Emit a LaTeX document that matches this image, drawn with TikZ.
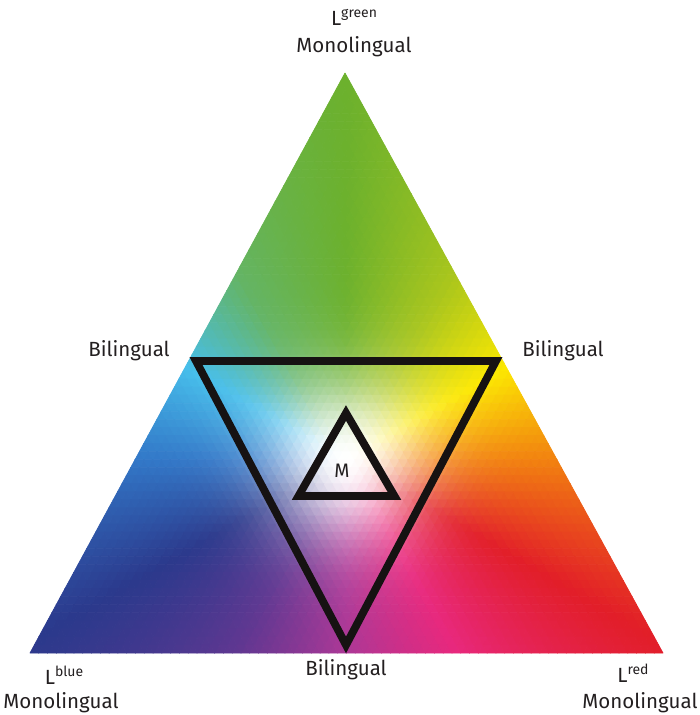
\documentclass[tikz,border=0pt]{standalone}
\usepackage{fontspec}
\setmainfont{Fira Sans}
% hue keys every 30 degrees, starting at -90 degrees (bottom middle), counter-clockwise
\definecolor{k0}{RGB}{172,55,150}
\definecolor{k1}{RGB}{232,40,125}
\definecolor{k2}{RGB}{226,30,40}
\definecolor{k3}{RGB}{242,130,15}
\definecolor{k4}{RGB}{252,232,0}
\definecolor{k5}{RGB}{170,198,28}
\definecolor{k6}{RGB}{108,177,45}
\definecolor{k7}{RGB}{100,180,100}
\definecolor{k8}{RGB}{70,190,235}
\definecolor{k9}{RGB}{50,120,200}
\definecolor{k10}{RGB}{43,57,140}
\definecolor{k11}{RGB}{95,55,145}
\definecolor{k12}{RGB}{172,55,150}
\definecolor{labelgray}{RGB}{35,31,32}
\definecolor{framecol}{RGB}{22,18,18}
\tikzset{
  lab/.style={text=labelgray, font=\fontsize{20.5}{24}\selectfont, inner sep=0pt, anchor=base},
  frame/.style={draw=framecol, line width=7.8pt, line join=miter},
}
% mesh parameters (pixel units, y downward)
\def\Ax{345}\def\Ay{73}
\def\NN{72}
\pgfmathsetmacro\dxr{-315/\NN}
\pgfmathsetmacro\dxs{633/\NN}
\pgfmathsetmacro\dyr{580/\NN}
\def\Cx{346}\def\Cy{459.67}
\newcommand\meshpt[2]{({\Ax+(#1)*\dxr+(#2)*\dxs},{\Ay+(#1)*\dyr})}
\newcommand\tricolor[2]{%
  \pgfmathsetmacro\cxx{\Ax+(#1)*\dxr+(#2)*\dxs}%
  \pgfmathsetmacro\cyy{\Ay+(#1)*\dyr}%
  \pgfmathsetmacro\ddx{(\cxx-\Cx)/100}%
  \pgfmathsetmacro\ddy{(\Cy-\cyy)/100}%
  \pgfmathsetmacro\angg{mod(atan2(\ddy,\ddx)+450,360)}%
  \pgfmathtruncatemacro\kk{floor(\angg/30)}%
  \pgfmathtruncatemacro\kn{\kk+1}%
  \pgfmathsetmacro\myT{(\angg-30*\kk)*100/30}%
  \pgfmathsetmacro\myG{100*(1-exp(-(\ddx*\ddx+\ddy*\ddy)/0.62))}%
  \colorlet{huec}{k\kn!\myT!k\kk}%
  \colorlet{cc}{huec!\myG!white}%
}
\begin{document}
\begin{tikzpicture}[x=1pt,y=-1pt]
\useasboundingbox (0,0) rectangle (699,715);
% colour field
\foreach \r in {0,...,71} {
  \pgfmathtruncatemacro\rn{\r+1}
  \foreach \s in {0,...,\r} {
    \pgfmathtruncatemacro\sn{\s+1}
    \tricolor{\r+0.6667}{\s+0.3333}
    \fill[cc, draw=cc, line width=0.7pt, line join=round]
      \meshpt{\r}{\s} -- \meshpt{\rn}{\s} -- \meshpt{\rn}{\sn} -- cycle;
  }
  \ifnum\r>0
    \pgfmathtruncatemacro\rm{\r-1}
    \foreach \s in {0,...,\rm} {
      \pgfmathtruncatemacro\sn{\s+1}
      \tricolor{\r+0.3333}{\s+0.6667}
      \fill[cc, draw=cc, line width=0.7pt, line join=round]
        \meshpt{\r}{\s} -- \meshpt{\r}{\sn} -- \meshpt{\rn}{\sn} -- cycle;
    }
  \fi
}
% frames
\coordinate (i1) at (196,361);
\coordinate (i2) at (496,361);
\coordinate (i3) at (346,645);
\draw[frame] (i1) -- (i2) -- (i3) -- cycle;
\coordinate (m1) at (346,413);
\coordinate (m2) at (298.5,496);
\coordinate (m3) at (394.5,496);
\draw[frame] (m1) -- (m2) -- (m3) -- cycle;
% labels
\node[lab] (lgreen) at (354,25) {L\raisebox{8pt}{\fontsize{14}{14}\selectfont green}};
\node[lab] (mtop) at (354,52) {Monolingual};
\node[lab] (bleft) at (129,356) {Bilingual};
\node[lab] (bright) at (563,356) {Bilingual};
\node[lab] (bbottom) at (346,675) {Bilingual};
\node[lab] (lblue) at (64,684) {L\raisebox{8pt}{\fontsize{14}{14}\selectfont blue}};
\node[lab] (mleft) at (61,708) {Monolingual};
\node[lab] (lred) at (633,682) {L\raisebox{8pt}{\fontsize{14}{14}\selectfont red}};
\node[lab] (mright) at (640,708) {Monolingual};
\node[lab, font=\fontsize{19.5}{22}\selectfont] (mm) at (342,477.5) {M};
\end{tikzpicture}
\end{document}
